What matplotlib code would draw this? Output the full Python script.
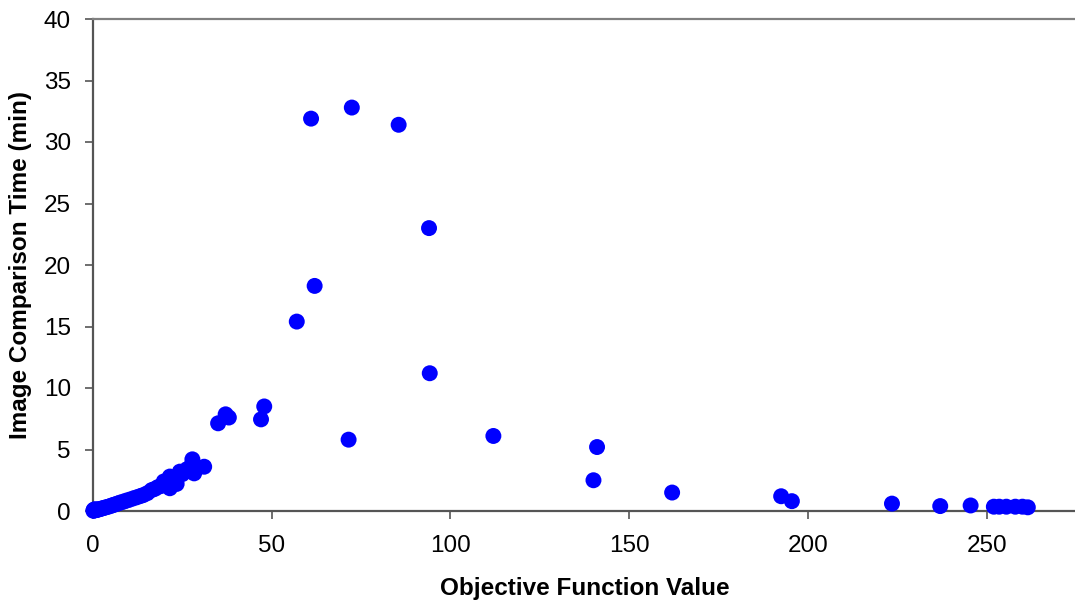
import matplotlib
matplotlib.use("Agg")
import matplotlib.pyplot as plt

plt.rcParams['font.family'] = ['Liberation Sans', 'DejaVu Sans']

# Objective function value (x) and image comparison time in minutes (y)
objective = [
    0.1, 0.2, 0.3, 0.5, 0.6, 0.8, 1.0, 1.3, 1.6, 2.0, 2.4, 2.9, 3.4, 4.0, 4.6,
    5.2, 5.7, 6.3, 7.0, 7.7, 8.5, 9.3, 10.2, 11.3, 12.3, 13.3, 14.1, 15.2,
    16.4, 17.3, 18.2, 19.2, 19.8, 20.5, 21.5, 21.5, 22.3, 23.4, 24.3, 25.0,
    26.3, 27.3, 27.8, 28.3, 31.1,
    35.0, 37.1, 38.0, 47.0, 47.9,
    57.0, 61.0, 62.0, 71.5, 72.4, 85.5, 94.0, 94.2,
    112.0, 140.0, 141.0, 162.0, 192.5, 195.5, 223.5, 237.0, 245.5,
    252.0, 253.5, 255.5, 258.0, 260.0, 261.5,
]
time_min = [
    0.02, 0.10, 0.04, 0.06, 0.15, 0.08, 0.09, 0.11, 0.13, 0.16, 0.20, 0.24,
    0.28, 0.33, 0.38, 0.44, 0.49, 0.55, 0.62, 0.69, 0.76, 0.84, 0.92, 1.03,
    1.12, 1.22, 1.30, 1.45, 1.70, 1.80, 1.95, 2.05, 2.40, 2.30, 1.85, 2.80,
    2.60, 2.20, 3.20, 3.00, 3.40, 3.60, 4.20, 3.06, 3.60,
    7.13, 7.86, 7.60, 7.45, 8.50,
    15.4, 31.9, 18.3, 5.8, 32.8, 31.4, 23.0, 11.2,
    6.1, 2.5, 5.2, 1.5, 1.2, 0.8, 0.6, 0.4, 0.45,
    0.35, 0.35, 0.35, 0.35, 0.35, 0.30,
]

x_ticks = [0, 50, 100, 150, 200, 250]
y_ticks = [0, 5, 10, 15, 20, 25, 30, 35, 40]

fig = plt.figure(figsize=(10.75, 6.08), dpi=100)
ax = fig.add_axes([93 / 1075, 1 - 511 / 608, 1 - 93 / 1075, (511 - 19) / 608])

ax.scatter(objective, time_min, s=132, color='#0000FF', edgecolors='none',
           zorder=3, clip_on=False)

ax.set_xlim(0, 274.7)
ax.set_ylim(0, 40)
ax.set_xticks(x_ticks)
ax.set_yticks(y_ticks)
ax.tick_params(axis='both', labelsize=17.5, direction='out', length=6,
               width=1.2, color='#555555')
ax.tick_params(axis='x', pad=11.5)
ax.tick_params(axis='y', pad=10)

for side in ['left', 'bottom']:
    ax.spines[side].set_color('#555555')
    ax.spines[side].set_linewidth(1.6)
ax.spines['top'].set_color('#808080')
ax.spines['top'].set_linewidth(1.6)
ax.spines['right'].set_visible(False)

ax.set_xlabel('Objective Function Value', fontsize=17.5, fontweight='bold')
ax.set_ylabel('Image Comparison Time (min)', fontsize=17.5, fontweight='bold')

# place axis labels at measured pixel positions (centres)
ax.xaxis.set_label_coords((585 - 93) / (1075 - 93), -(588 - 511) / (511 - 19))
ax.xaxis.label.set_verticalalignment('center')
ax.yaxis.set_label_coords(-(93 - 21) / (1075 - 93), (511 - 265) / (511 - 19))
ax.yaxis.label.set_verticalalignment('center')

fig.savefig('out.png', dpi=100)
